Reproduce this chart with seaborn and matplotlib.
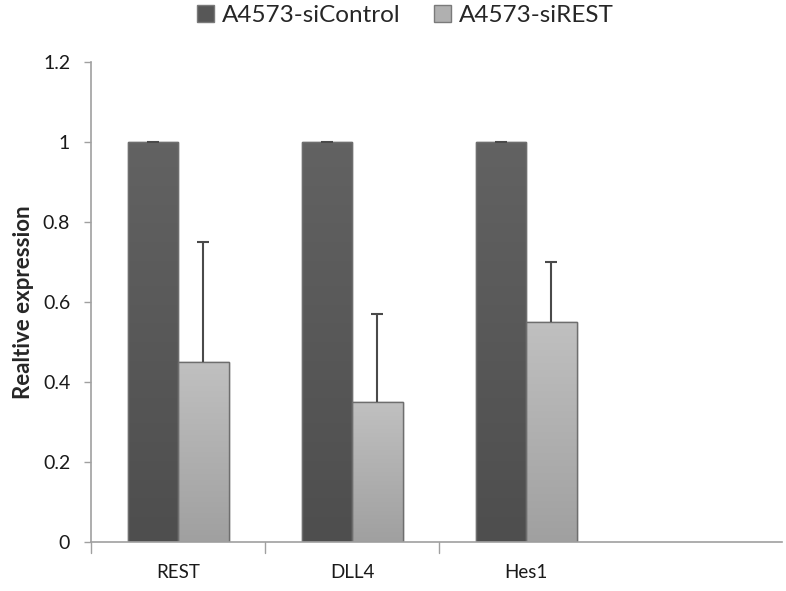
import matplotlib
matplotlib.use("Agg")
import matplotlib.pyplot as plt
import matplotlib.colors as mcolors
import seaborn as sns
import pandas as pd
import numpy as np

genes = ["REST", "DLL4", "Hes1"]
groups = ["A4573-siControl", "A4573-siREST"]
control_values = [1.0, 1.0, 1.0]
control_err = [0.0, 0.0, 0.0]
sirest_values = [0.45, 0.35, 0.55]
sirest_err = [0.30, 0.22, 0.15]
yticks = [0, 0.2, 0.4, 0.6, 0.8, 1, 1.2]
ytick_labels = ["0", "0.2", "0.4", "0.6", "0.8", "1", "1.2"]

df = pd.DataFrame({
    "gene": genes * 2,
    "group": [groups[0]] * 3 + [groups[1]] * 3,
    "value": control_values + sirest_values,
    "err": control_err + sirest_err,
})

sns.set_theme(style="white")
plt.rcParams["font.family"] = ["Lato", "DejaVu Sans"]

fig = plt.figure(figsize=(7.86, 5.91), dpi=100)
ax = fig.add_axes([91 / 786, 1 - 542 / 591, (782 - 91) / 786, (542 - 62) / 591])

palette = {groups[0]: "#575757", groups[1]: "#b0b0b0"}
sns.barplot(data=df, x="gene", y="value", hue="group", order=genes,
            hue_order=groups, palette=palette, errorbar=None, width=0.58,
            edgecolor="#7a7a7a", linewidth=1.0, saturation=1, ax=ax,
            legend=True)

# soft vertical shading inside each bar: lighter at the top, darker below
shades = {groups[0]: ("#626262", "#4e4e4e"), groups[1]: ("#c0c0c0", "#a0a0a0")}
for container, grp in zip(ax.containers, groups):
    top_c, bot_c = shades[grp]
    cmap = mcolors.LinearSegmentedColormap.from_list(grp, [bot_c, top_c])
    for patch in container.patches:
        x0, w = patch.get_x(), patch.get_width()
        h = patch.get_height()
        grad = np.linspace(0, 1, 64).reshape(-1, 1)
        im = ax.imshow(grad, cmap=cmap, origin="lower", aspect="auto",
                       extent=[x0, x0 + w, 0, h], zorder=patch.get_zorder() + 0.1)
        im.set_clip_path(patch)
        ax.add_patch(plt.Rectangle((x0, 0), w, h, fill=False,
                                   edgecolor="#6e6e6e", linewidth=1.0,
                                   zorder=patch.get_zorder() + 0.2))

# one-sided error bars rising from each bar top
for container, grp in zip(ax.containers, groups):
    sub = df[df["group"] == grp].set_index("gene").loc[genes]
    for patch, (_, row) in zip(container.patches, sub.iterrows()):
        xc = patch.get_x() + patch.get_width() / 2
        ax.errorbar(xc, row["value"], yerr=[[0], [row["err"]]], fmt="none",
                    ecolor="#4a4a4a", elinewidth=1.5, capsize=0, zorder=5)
        ax.plot([xc], [row["value"] + row["err"]], marker="_", ms=8,
                mew=1.5, color="#4a4a4a", zorder=5)

ax.set_ylim(0, 1.2)
ax.set_xlim(-0.5, 3.47)
ax.set_yticks(yticks)
ax.set_yticklabels(ytick_labels)
ax.set_xticks([0, 1, 2])
ax.set_xticklabels(genes)
ax.set_xlabel("")
ax.set_ylabel("Realtive expression", fontsize=16, fontweight="bold", labelpad=6)

# category boundary ticks on x axis
for b in [-0.5, 0.5, 1.5]:
    ax.plot([b, b], [0, -0.028], color="#a0a0a0", lw=1, clip_on=False)

ax.tick_params(axis="x", length=0, labelsize=13.5, pad=16, labelcolor="#1a1a1a")
ax.tick_params(axis="y", length=5, width=1, color="#a0a0a0", labelsize=14,
               left=True, pad=10, labelcolor="#1a1a1a")

for side in ["top", "right"]:
    ax.spines[side].set_visible(False)
for side in ["left", "bottom"]:
    ax.spines[side].set_color("#a0a0a0")
    ax.spines[side].set_linewidth(1.2)

handles, labels = ax.get_legend_handles_labels()
ax.legend(handles, labels, loc="upper center", bbox_to_anchor=(0.455, 1.165),
          ncol=2, frameon=False, fontsize=17.5, handlelength=0.7,
          handleheight=0.7, handletextpad=0.3, columnspacing=1.4)

fig.savefig("out.png", dpi=100)
